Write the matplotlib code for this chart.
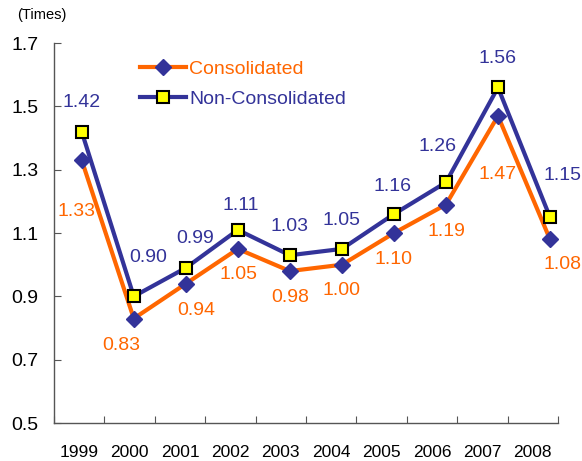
import numpy as np
import matplotlib
matplotlib.use("Agg")
import matplotlib.pyplot as plt

plt.rcParams['font.family'] = ['Liberation Sans', 'DejaVu Sans']

years = ["1999", "2000", "2001", "2002", "2003", "2004", "2005", "2006", "2007", "2008"]
consolidated = [1.33, 0.83, 0.94, 1.05, 0.98, 1.00, 1.10, 1.19, 1.47, 1.08]
non_consolidated = [1.42, 0.90, 0.99, 1.11, 1.03, 1.05, 1.16, 1.26, 1.56, 1.15]

# label offsets in pixels (dx, dy) relative to each point
cons_offsets = [(-5, -51), (-13, -27), (10, -27), (1, -26), (0, -26),
                (0, -26), (0, -26), (0, -27), (0, -59), (12, -25)]
noncons_offsets = [(0, 29), (14, 39), (9, 29), (3, 24), (0, 29),
                   (0, 28), (-1, 28), (-8, 36), (0, 29), (12, 42)]

orange = "#FF6600"
blue = "#333399"

fig = plt.figure(figsize=(5.82, 4.61), dpi=100)
ax = fig.add_axes([0.0928, 0.0824, 0.866, 0.824])

x = np.arange(len(years))
ax.plot(x, consolidated, color=orange, lw=3, marker="D", ms=8,
        mfc=blue, mec=blue, label="Consolidated", zorder=3)
ax.plot(x, non_consolidated, color=blue, lw=3, marker="s", ms=9,
        mfc="#FFFF00", mec="black", mew=1.5, label="Non-Consolidated", zorder=4)

for xi, v, off in zip(x, consolidated, cons_offsets):
    ax.annotate(f"{v:.2f}", (xi, v), xytext=off, textcoords="offset pixels",
                ha="center", va="center", color=orange, fontsize=14)
for xi, v, off in zip(x, non_consolidated, noncons_offsets):
    ax.annotate(f"{v:.2f}", (xi, v), xytext=off, textcoords="offset pixels",
                ha="center", va="center", color=blue, fontsize=14)

x0, x1 = -0.533, 9.154
ax.set_xlim(x0, x1)
ax.set_ylim(0.5, 1.7)

bounds = np.linspace(x0, x1, len(years) + 1)
ax.set_xticks(bounds)
ax.set_xticklabels([])
ax.set_xticks((bounds[:-1] + bounds[1:]) / 2, minor=True)
ax.set_xticklabels(years, minor=True, fontsize=12.5)
ax.tick_params(axis="x", which="major", direction="in", length=5, color="#555555")
ax.tick_params(axis="x", which="minor", length=0, pad=16)

ax.set_yticks([0.5, 0.7, 0.9, 1.1, 1.3, 1.5, 1.7])
ax.set_yticklabels(["0.5", "0.7", "0.9", "1.1", "1.3", "1.5", "1.7"], fontsize=14)
ax.tick_params(axis="y", direction="in", length=5, color="#555555", pad=11)

for s in ["top", "right"]:
    ax.spines[s].set_visible(False)
for s in ["left", "bottom"]:
    ax.spines[s].set_color("#555555")
    ax.spines[s].set_linewidth(1)

leg = ax.legend(loc="upper left", bbox_to_anchor=(0.135, 1.0), frameon=False,
                fontsize=14, handlelength=2.4, handletextpad=0.15, labelspacing=0.6)
for txt, c in zip(leg.get_texts(), [orange, blue]):
    txt.set_color(c)

fig.text(42 / 582, 1 - 15 / 461, "(Times)", ha="center", va="center", fontsize=10.5)

fig.savefig("out.png", dpi=100)
